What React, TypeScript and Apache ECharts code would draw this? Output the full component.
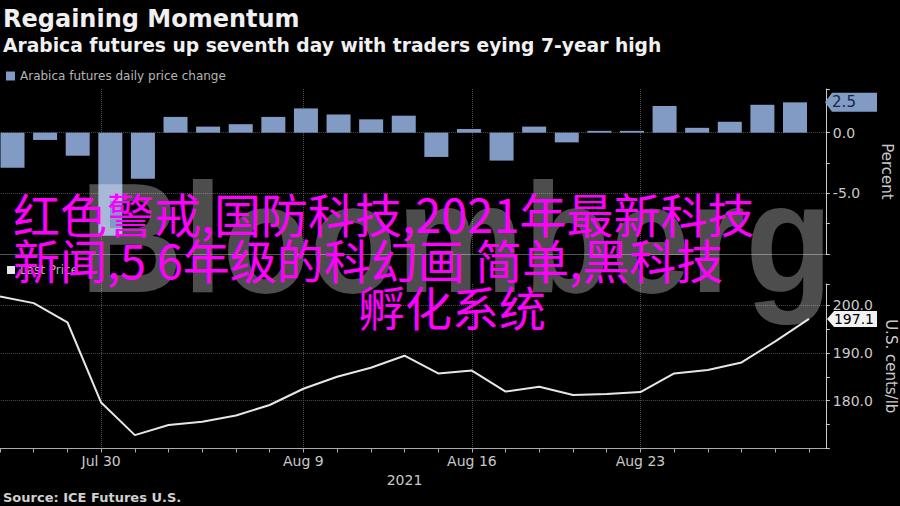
import React, { useEffect, useRef } from "react";
import * as echarts from "echarts";

const dates = [
  "Jul 27", "Jul 28", "Jul 29", "Jul 30",
  "Aug 2", "Aug 3", "Aug 4", "Aug 5", "Aug 6",
  "Aug 9", "Aug 10", "Aug 11", "Aug 12", "Aug 13",
  "Aug 16", "Aug 17", "Aug 18", "Aug 19", "Aug 20",
  "Aug 23", "Aug 24", "Aug 25", "Aug 26", "Aug 27",
  "Aug 30",
];
const dailyChange = [
  -2.9, -0.6, -1.9, -8.5,
  -3.8, 1.3, 0.5, 0.7, 1.3,
  2.0, 1.5, 1.1, 1.4, -2.0,
  0.3, -2.3, 0.5, -0.8, 0.15,
  0.15, 2.2, 0.4, 0.9, 2.3,
  2.5,
];
const lastPrice = [
  201.8, 200.4, 196.4, 179.6,
  172.8, 174.9, 175.6, 176.9, 179.1,
  182.5, 185.0, 186.9, 189.4, 185.7,
  186.3, 181.9, 182.9, 181.2, 181.4,
  181.8, 185.7, 186.4, 188.0, 192.4,
  197.1,
];
const dateLabels = ["Jul 30", "Aug 9", "Aug 16", "Aug 23"];
const pctLabels = [0, -5];
const priceLabels = [180, 190, 200];
const headlineLines = [
  "红色警戒,国防科技,2021年最新科技",
  "新闻,5 6年级的科幻画 简单,黑科技",
  "孵化系统",
];

const FONT = "'DejaVu Sans', Verdana, sans-serif";
const AXIS = "#c9c9c9";
const GRIDC = "#4d4d4d";
const BAR = "#819bc4";
const LINE = "#e6e6e6";

export default function App() {
  const ref = useRef<HTMLDivElement>(null);
  useEffect(() => {
    if (!ref.current) return;
    document.body.style.background = "#000";
    const chart = echarts.init(ref.current, undefined, { renderer: "svg" });
    const last = dates.length - 1;
    const isLabelDate = (i: number) => dateLabels.includes(dates[i]);
    const splitX = {
      show: true,
      alignWithLabel: true,
      interval: (i: number) => isLabelDate(i),
      lineStyle: { color: GRIDC, type: "dotted", width: 1 },
    };
    const option: any = {
      animation: false,
      backgroundColor: "#000",
      title: [
        {
          text: "Regaining Momentum",
          left: 3, top: 7, padding: 0,
          textStyle: { color: "#f0f0f0", fontSize: 24, fontWeight: "bold", fontFamily: FONT, lineHeight: 24 },
        },
        {
          text: "Arabica futures up seventh day with traders eying 7-year high",
          left: 3, top: 36, padding: 0,
          textStyle: { color: "#f0f0f0", fontSize: 18.7, fontWeight: "bold", fontFamily: FONT, lineHeight: 19 },
        },
        {
          text: "Source: ICE Futures U.S.",
          left: 3, top: 491, padding: 0,
          textStyle: { color: "#d0d0d0", fontSize: 13, fontWeight: "bold", fontFamily: FONT, lineHeight: 13 },
        },
      ],
      legend: [
        {
          data: ["Arabica futures daily price change"],
          left: 6, top: 70, padding: 0,
          itemWidth: 9, itemHeight: 9, icon: "rect", selectedMode: false,
          textStyle: { color: "#b5b5b5", fontSize: 12, fontFamily: FONT },
        },
        {
          data: ["Last Price"],
          left: 7, top: 264, padding: 0,
          itemWidth: 8, itemHeight: 8, icon: "rect", selectedMode: false,
          textStyle: { color: "#b5b5b5", fontSize: 12, fontFamily: FONT },
        },
      ],
      grid: [
        { left: -16.83, width: 842.67, top: 89, height: 165, outerBoundsMode: "none", containLabel: false },
        { left: -3.8, width: 815.1, top: 89, height: 165, outerBoundsMode: "none", containLabel: false },
        { left: -16.83, width: 842.67, top: 284, height: 164.5, outerBoundsMode: "none", containLabel: false },
      ],
      xAxis: [
        {
          gridIndex: 0, type: "category", data: dates, boundaryGap: true,
          axisLine: { show: true, onZero: false, lineStyle: { color: "#555" } },
          axisTick: { show: false }, axisLabel: { show: false },
          splitLine: splitX,
        },
        { gridIndex: 1, type: "category", data: dates, boundaryGap: true, show: false },
        {
          gridIndex: 2, type: "category", data: dates, boundaryGap: true,
          axisLine: { show: true, onZero: false, lineStyle: { color: "#aaa" } },
          axisTick: { show: true, alignWithLabel: true, interval: 0, length: 4, lineStyle: { color: "#aaa" } },
          axisLabel: {
            interval: (i: number) => isLabelDate(i),
            color: AXIS, fontSize: 14, fontFamily: FONT, margin: 5,
          },
          splitLine: splitX,
          name: "2021", nameLocation: "middle", nameGap: 24,
          nameTextStyle: { color: AXIS, fontSize: 14, fontFamily: FONT },
        },
      ],
      yAxis: [
        {
          gridIndex: 0, type: "value", position: "right",
          min: -10, max: 3.6, interval: 2.5,
          axisLine: { show: true, lineStyle: { color: AXIS } },
          axisTick: { show: true, length: 4, lineStyle: { color: AXIS } },
          axisLabel: {
            color: AXIS, fontSize: 14, fontFamily: FONT, margin: 7,
            formatter: (v: number) => (pctLabels.includes(v) ? v.toFixed(1) : ""),
          },
          splitLine: { show: false },
          name: "Percent", nameLocation: "middle", nameRotate: -90, nameGap: 54,
          nameTextStyle: { color: AXIS, fontSize: 15, fontFamily: FONT },
        },
        {
          gridIndex: 0, type: "value", position: "left",
          min: -10, max: 3.6, interval: 5,
          axisLine: { show: false }, axisTick: { show: false }, axisLabel: { show: false },
          splitLine: { show: true, showMinLine: false, showMaxLine: false, lineStyle: { color: GRIDC, type: "dotted" } },
        },
        { gridIndex: 1, type: "value", min: -10, max: 3.6, show: false },
        {
          gridIndex: 2, type: "value", position: "right",
          min: 170, max: 204.4, interval: 5,
          axisLine: { show: true, lineStyle: { color: AXIS } },
          axisTick: { show: true, length: 4, lineStyle: { color: AXIS } },
          axisLabel: {
            color: AXIS, fontSize: 14, fontFamily: FONT, margin: 7,
            formatter: (v: number) => (priceLabels.includes(v) ? v.toFixed(1) : ""),
          },
          splitLine: { show: false },
          name: "U.S. cents/lb", nameLocation: "middle", nameRotate: -90, nameGap: 56,
          nameTextStyle: { color: AXIS, fontSize: 15, fontFamily: FONT },
        },
        {
          gridIndex: 2, type: "value", position: "left",
          min: 170, max: 204.4, interval: 10,
          axisLine: { show: false }, axisTick: { show: false }, axisLabel: { show: false },
          splitLine: { show: true, showMinLine: false, showMaxLine: false, lineStyle: { color: GRIDC, type: "dotted" } },
        },
      ],
      series: [
        {
          type: "bar",
          name: "Arabica futures daily price change",
          xAxisIndex: 1, yAxisIndex: 2,
          data: dailyChange,
          barWidth: 24,
          itemStyle: { color: BAR },
          markPoint: {
            symbol: "path://M0,9.5L7,0L52,0L52,19L7,19Z",
            symbolSize: [52, 19],
            symbolOffset: [56, 0],
            itemStyle: { color: BAR },
            label: {
              show: true, position: "inside", offset: [-7, 0],
              color: "#15284a", fontSize: 15, fontFamily: FONT,
              formatter: (p: any) => Number(p.value).toFixed(1),
            },
            data: [{ coord: [dates[last], dailyChange[last]], value: dailyChange[last] }],
          },
        },
        {
          type: "line",
          name: "Last Price",
          xAxisIndex: 2, yAxisIndex: 3,
          data: lastPrice,
          symbol: "none",
          lineStyle: { color: LINE, width: 2 },
          itemStyle: { color: LINE },
          markPoint: {
            symbol: "path://M0,8L7,0L50,0L50,16L7,16Z",
            symbolSize: [50, 16],
            symbolOffset: [43, 0],
            itemStyle: { color: "#f2f2f2" },
            label: {
              show: true, position: "inside", offset: [2, 0],
              color: "#000", fontSize: 14, fontFamily: FONT,
              formatter: (p: any) => Number(p.value).toFixed(1),
            },
            data: [{ coord: [dates[last], lastPrice[last]], value: lastPrice[last] }],
          },
        },
      ],
      graphic: [
        {
          type: "text", x: 80, y: 238, scaleX: 0.92, z: 100, silent: true,
          style: {
            text: "Bloomberg",
            fill: "rgba(255,255,255,0.3)",
            fontSize: 155, fontWeight: "bold", fontFamily: "'Liberation Sans', Arial, sans-serif",
            align: "left", verticalAlign: "middle",
          },
        },
        ...headlineLines.map((t, i) => ({
          type: "text",
          x: i === 2 ? 358 : 13,
          y: 212 + i * 46.5,
          z: 101, silent: true,
          style: {
            text: t, fill: "#ff00ff",
            fontSize: 47, fontFamily: "'Noto Sans CJK SC', sans-serif",
            align: "left", verticalAlign: "middle",
          },
        })),
      ],
    };
    chart.setOption(option);
    return () => chart.dispose();
  }, []);
  return (
    <div
      ref={ref}
      style={{ position: "fixed", left: 0, top: 0, width: 900, height: 506, background: "#000" }}
    />
  );
}
